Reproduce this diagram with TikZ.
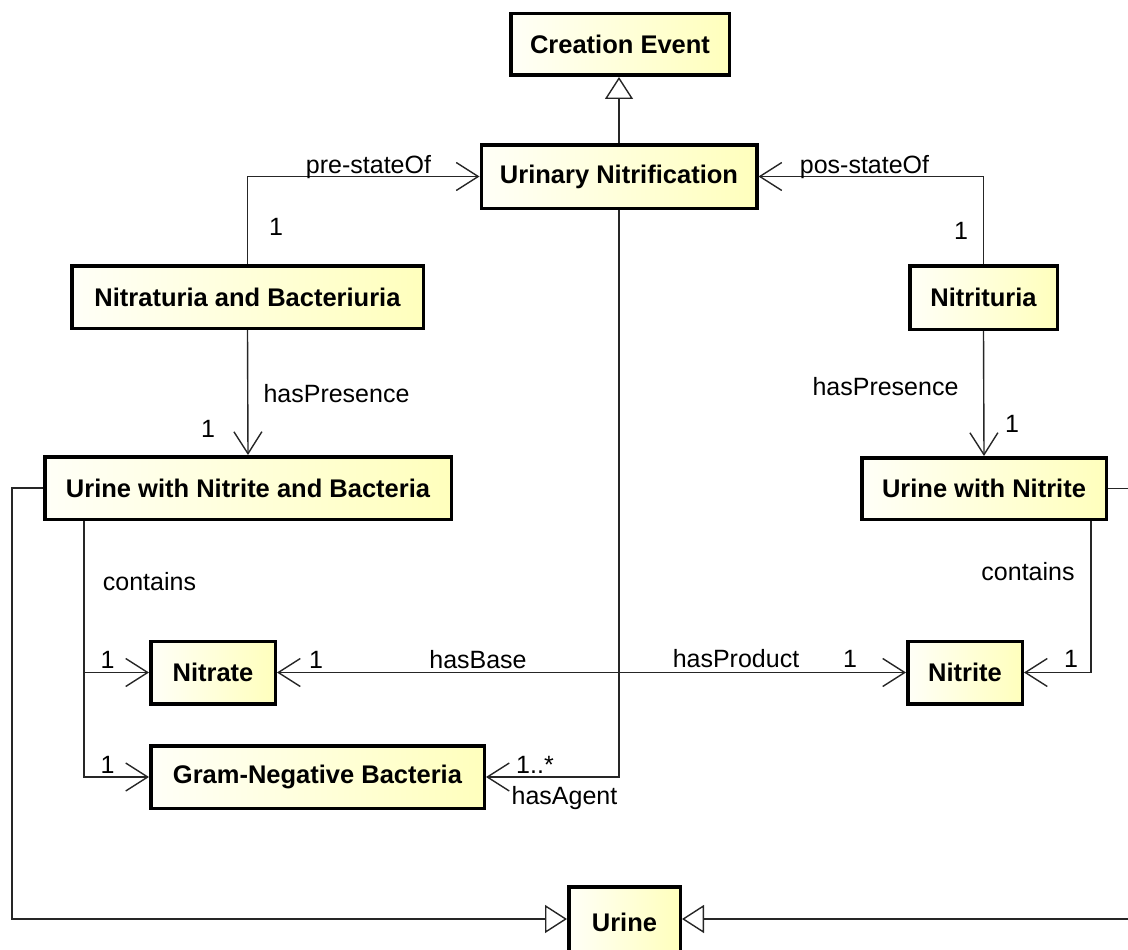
\documentclass[tikz,border=0pt]{standalone}
\usepackage{fontspec}
\setmainfont{Liberation Sans}
\usetikzlibrary{arrows.meta}
\begin{document}
\begin{tikzpicture}[x=1pt,y=-1pt,
  cls/.style={draw=black, line width=3.5pt, left color=yellow!3, right color=yellow!26,
    font=\fontsize{25.5}{30}\selectfont\bfseries, inner sep=0pt, anchor=center},
  lbl/.style={font=\fontsize{25}{30}\selectfont, inner sep=0pt, anchor=base},
  conn/.style={line width=1.4pt, draw=black!85},
  assoc/.style={conn, -{Straight Barb[length=22pt,width=28pt]}},
  gen/.style={conn, -{Triangle[open,length=22pt,width=28pt]}}
]
\useasboundingbox (0,0) rectangle (1128,950);
\clip (0,0) rectangle (1128,950);

% classes
\node[cls, minimum width=218.5pt, minimum height=61.5pt] (CE) at (620,44.5) {Creation Event};
\node[cls, minimum width=275.5pt, minimum height=63.5pt] (UN) at (619,176.5) {Urinary Nitrification};
\node[cls, minimum width=351.5pt, minimum height=62.5pt] (NB) at (247.5,297) {Nitraturia and Bacteriuria};
\node[cls, minimum width=147.5pt, minimum height=63.5pt] (NI) at (983.5,297.5) {Nitrituria};
\node[cls, minimum width=406.5pt, minimum height=62.5pt] (UNB) at (248,488) {Urine with Nitrite and Bacteria};
\node[cls, minimum width=244.5pt, minimum height=61.5pt] (UWN) at (984,488.5) {Urine with Nitrite};
\node[cls, minimum width=124.5pt, minimum height=62.5pt] (NA) at (213,672.5) {Nitrate};
\node[cls, minimum width=114.5pt, minimum height=62.5pt] (NT) at (965,672.5) {Nitrite};
\node[cls, minimum width=333.5pt, minimum height=62.5pt] (GNB) at (317.5,777) {Gram-Negative Bacteria};
\node[cls, minimum width=111.5pt, minimum height=70pt] (UR) at (624.5,922) {Urine};

% routing columns
\coordinate (cl) at (84,600);
\coordinate (cr) at (1091,600);
\coordinate (gl) at (12,919);
\coordinate (gr) at (1140,919);

% generalizations
\draw[gen] (UN.north) -- (UN.north |- CE.south);
\draw[gen] (UNB.west) -- (UNB.west -| gl) |- (UR.west |- gl);
\draw[gen] (UWN.east) -- (UWN.east -| gr) |- (UR.east |- gr);

% associations
\draw[assoc] (NB.north) |- (UN.west);
\draw[assoc] (NI.north) |- (UN.east);
\draw[assoc] (NB.south) -- (UNB.north);
\draw[assoc] (NI.south) -- (UWN.north);
\draw[assoc] (cl |- UNB.south) |- (NA.west);
\draw[assoc] (cl |- UNB.south) |- (GNB.west);
\draw[assoc] (cr |- UWN.south) |- (NT.east);
\draw[assoc] (UN.south) |- (NA.east);
\draw[assoc] (UN.south) |- (NT.west);
\draw[assoc] (UN.south) |- (GNB.east);

% role names and multiplicities
\node[lbl] (l1) at (368.5,173) {pre-stateOf};
\node[lbl] (l2) at (276,235) {1};
\node[lbl] (l3) at (864.5,173) {pos-stateOf};
\node[lbl] (l4) at (961,239) {1};
\node[lbl] (l5) at (336.5,402) {hasPresence};
\node[lbl] (l6) at (208,437) {1};
\node[lbl] (l7) at (885.5,395) {hasPresence};
\node[lbl] (l8) at (1012,432) {1};
\node[lbl] (l9) at (149.5,590) {contains};
\node[lbl] (l10) at (1028,580) {contains};
\node[lbl] (l11) at (107.5,668) {1};
\node[lbl] (l12) at (107.5,773) {1};
\node[lbl] (l13) at (316,668) {1};
\node[lbl] (l14) at (478,668) {hasBase};
\node[lbl] (l15) at (736,667) {hasProduct};
\node[lbl] (l16) at (850,667) {1};
\node[lbl] (l17) at (1071,667) {1};
\node[lbl] (l18) at (535,773) {1..*};
\node[lbl] (l19) at (564.5,804) {hasAgent};
\end{tikzpicture}
\end{document}
